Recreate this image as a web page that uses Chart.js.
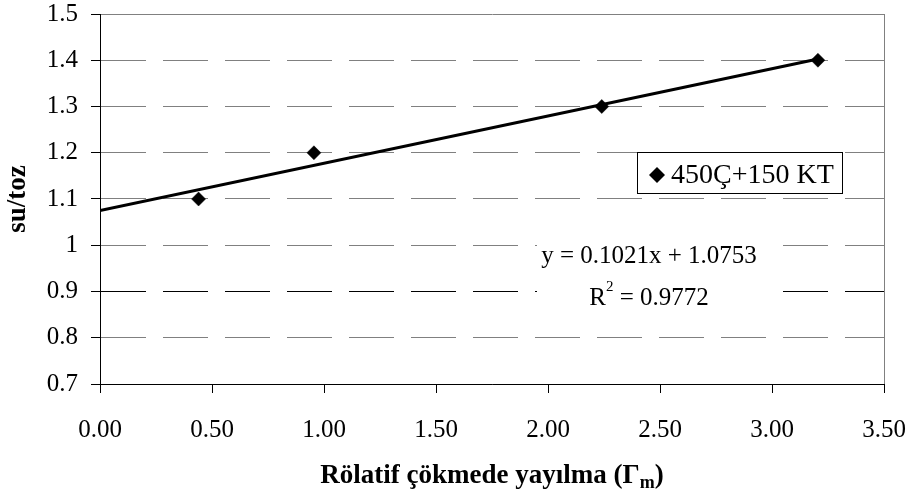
<!DOCTYPE html>
<html>
<head>
<meta charset="utf-8">
<title>su/toz</title>
<script src="https://cdn.jsdelivr.net/npm/chart.js@4.4.1/dist/chart.umd.min.js"></script>
<style>
  html, body { margin: 0; padding: 0; background: #fff; }
  #wrap { width: 918px; height: 498px; }
</style>
</head>
<body>
<div id="wrap"><canvas id="sutoz" width="918" height="498"></canvas></div>
<script>
// data
var seriesName = '450Ç+150 KT';
var gammaM = [0.44, 0.955, 2.24, 3.205];
var suToz = [1.1, 1.2, 1.3, 1.4];
// trendline end points (x = 0 and last point)
var trendX = [0, 3.2];
var trendY = [1.0753, 1.402];
var equationText = 'y = 0.1021x + 1.0753';
var r2Value = '0.9772';
var xTickLabels = ['0.00', '0.50', '1.00', '1.50', '2.00', '2.50', '3.00', '3.50'];
var yTickLabels = ['0.7', '0.8', '0.9', '1', '1.1', '1.2', '1.3', '1.4', '1.5'];
var xTitle = 'Rölatif çökmede yayılma (Γ';
var xTitleSub = 'm';
var yTitle = 'su/toz';

var serif = '"Liberation Serif", "Times New Roman", serif';

var points = gammaM.map(function(x, i) { return {x: x, y: suToz[i]}; });
var trend = trendX.map(function(x, i) { return {x: x, y: trendY[i]}; });

var extras = {
    id: 'extras',
    beforeDatasetsDraw: function(chart) {
        var ctx = chart.ctx;
        var a = chart.chartArea;
        ctx.save();
        // grey frame on the right side
        ctx.strokeStyle = '#808080';
        ctx.lineWidth = 1;
        ctx.beginPath();
        ctx.moveTo(Math.round(a.right) + 0.5, a.top);
        ctx.lineTo(Math.round(a.right) + 0.5, a.bottom);
        ctx.stroke();

        // equation box
        ctx.fillStyle = '#fff';
        ctx.fillRect(537, 234, 239, 78);
        ctx.fillStyle = '#000';
        ctx.font = '25px ' + serif;
        ctx.textAlign = 'center';
        ctx.textBaseline = 'alphabetic';
        ctx.fillText(equationText, 649, 263);

        var rMain = 'R';
        var rRest = ' = ' + r2Value;
        var w1 = ctx.measureText(rMain).width;
        var w3 = ctx.measureText(rRest).width;
        ctx.font = '15px ' + serif;
        var w2 = ctx.measureText('2').width;
        var x0 = 649 - (w1 + w2 + w3) / 2;
        ctx.textAlign = 'left';
        ctx.font = '25px ' + serif;
        ctx.fillText(rMain, x0, 305);
        ctx.fillText(rRest, x0 + w1 + w2, 305);
        ctx.font = '15px ' + serif;
        ctx.fillText('2', x0 + w1, 291);
        ctx.restore();
    },
    afterDraw: function(chart) {
        var ctx = chart.ctx;
        var a = chart.chartArea;
        ctx.save();

        // legend box
        ctx.fillStyle = '#fff';
        ctx.fillRect(637, 152, 205, 41);
        ctx.strokeStyle = '#000';
        ctx.lineWidth = 1;
        ctx.strokeRect(637.5, 152.5, 205, 41);
        ctx.fillStyle = '#000';
        ctx.beginPath();
        ctx.moveTo(657, 167);
        ctx.lineTo(665, 175);
        ctx.lineTo(657, 183);
        ctx.lineTo(649, 175);
        ctx.closePath();
        ctx.fill();
        ctx.font = '28px ' + serif;
        ctx.textAlign = 'left';
        ctx.textBaseline = 'alphabetic';
        ctx.fillText(chart.data.datasets[0].label, 671, 183);

        // x axis title with subscript
        ctx.font = 'bold 27px ' + serif;
        var wMain = ctx.measureText(xTitle).width;
        var wClose = ctx.measureText(')').width;
        ctx.font = 'bold 18px ' + serif;
        var wSub = ctx.measureText(xTitleSub).width;
        var cx = (a.left + a.right) / 2;
        var sx = cx - (wMain + wSub + wClose) / 2;
        ctx.font = 'bold 27px ' + serif;
        ctx.fillText(xTitle, sx, 483);
        ctx.fillText(')', sx + wMain + wSub, 483);
        ctx.font = 'bold 18px ' + serif;
        ctx.fillText(xTitleSub, sx + wMain, 488);
        ctx.restore();
    }
};

var ctx = document.getElementById('sutoz');
new Chart(ctx, {
    type: 'scatter',
    data: {
        datasets: [{
            label: seriesName,
            data: points,
            pointStyle: 'rectRot',
            pointRadius: 7,
            pointBackgroundColor: '#000',
            pointBorderColor: '#000',
            pointBorderWidth: 0.5,
            order: 1
        }, {
            label: 'trend',
            type: 'line',
            data: trend,
            borderColor: '#000',
            borderWidth: 3,
            pointRadius: 0,
            fill: false,
            order: 2
        }]
    },
    options: {
        responsive: false,
        animation: false,
        layout: {
            autoPadding: false,
            padding: {top: 14, right: 34, left: 0, bottom: 0}
        },
        plugins: {
            legend: {display: false},
            tooltip: {enabled: false}
        },
        scales: {
            x: {
                type: 'linear',
                min: 0,
                max: 3.5,
                ticks: {
                    stepSize: 0.5,
                    color: '#000',
                    padding: 22,
                    font: {family: serif, size: 25},
                    callback: function(v, i) { return xTickLabels[i]; }
                },
                grid: {
                    drawOnChartArea: false,
                    tickLength: 9,
                    tickColor: '#000'
                },
                border: {color: '#000', width: 1},
                afterFit: function(scale) {
                    scale.height = 114;
                    scale.paddingLeft = 0;
                    scale.paddingRight = 0;
                }
            },
            y: {
                min: 0.7,
                max: 1.5,
                ticks: {
                    stepSize: 0.1,
                    color: '#000',
                    padding: 13,
                    font: {family: serif, size: 25},
                    callback: function(v, i) { return yTickLabels[i]; }
                },
                grid: {
                    tickLength: 9,
                    tickColor: '#000',
                    tickBorderDash: [],
                    color: function(c) {
                        if (c.tick && Math.abs(c.tick.value - 0.9) < 1e-6) return '#000';
                        return '#808080';
                    }
                },
                border: {
                    color: '#000',
                    width: 1,
                    dash: function(c) {
                        if (c.tick && c.tick.value > 1.49) return [];
                        return [45, 17];
                    }
                },
                title: {
                    display: true,
                    text: yTitle,
                    color: '#000',
                    padding: {top: 2, bottom: 0},
                    font: {family: serif, size: 27, weight: 'bold'}
                },
                afterFit: function(scale) {
                    scale.width = 100;
                    scale.paddingTop = 0;
                    scale.paddingBottom = 0;
                }
            }
        }
    },
    plugins: [extras]
});
</script>
</body>
</html>
